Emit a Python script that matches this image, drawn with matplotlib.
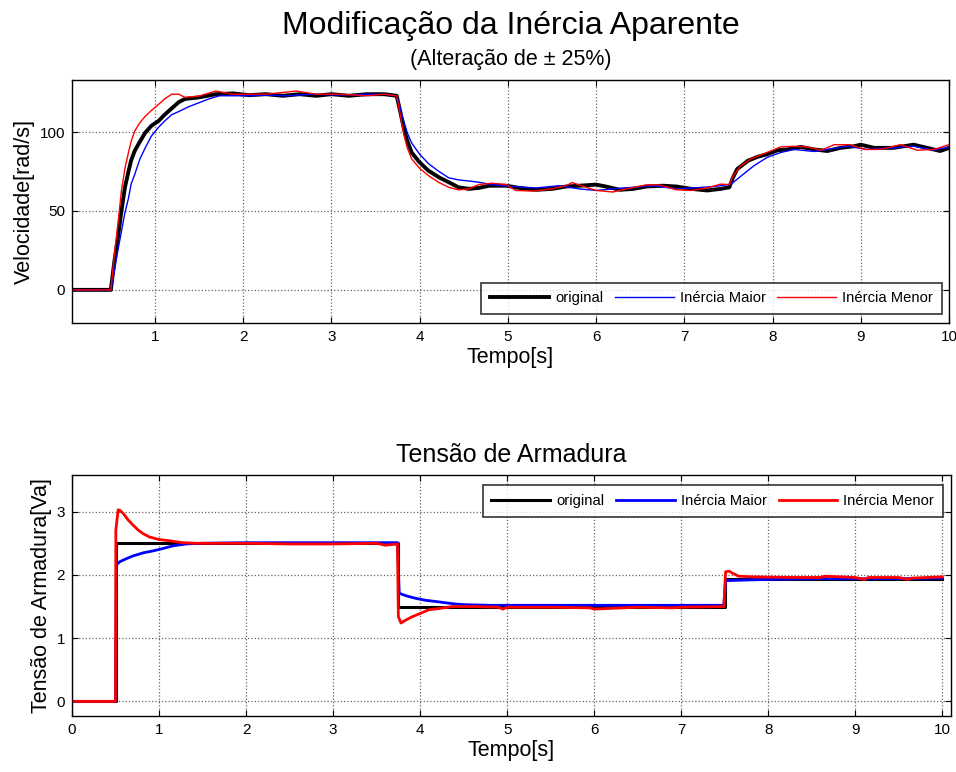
import matplotlib
matplotlib.use("Agg")
import matplotlib.pyplot as plt

plt.rcParams['font.family'] = ['Liberation Sans', 'DejaVu Sans']

# ---------------- Data: velocity (top) ----------------
t_vel_orig = [0.0, 0.50, 0.54, 0.58, 0.62, 0.66, 0.70, 0.73, 0.77, 0.83, 0.89, 0.96, 1.04, 1.11, 1.19,
              1.27, 1.34, 1.50, 1.69, 1.88, 2.07, 2.26, 2.45, 2.64, 2.83, 3.0, 3.2, 3.4, 3.6, 3.74,
              3.78, 3.82, 3.86, 3.91, 4.00, 4.10, 4.22, 4.33, 4.44, 4.56, 4.67, 4.79, 4.98, 5.13,
              5.32, 5.50, 5.66, 5.81, 6.00, 6.11, 6.27, 6.42, 6.57, 6.76, 6.91, 7.08, 7.26, 7.41,
              7.51, 7.55, 7.60, 7.72, 7.83, 7.94, 8.06, 8.17, 8.32, 8.47, 8.62, 8.77, 8.92, 9.00,
              9.15, 9.37, 9.60, 9.75, 9.90, 10.0]
vel_orig = [0, 0, 18, 33, 50, 65, 75, 82, 88, 94, 99.6, 104, 107, 111, 115,
            119, 121, 122, 124, 124.5, 123.4, 124, 123, 124, 123, 124, 123, 124, 124, 123,
            113, 102.7, 94.4, 87, 80.8, 75.5, 71.3, 68.2, 65, 64, 64.6, 66, 66, 64.6,
            63.4, 64, 65.5, 66, 66.7, 65.5, 63.4, 64, 65.5, 66, 65.5, 64, 63, 64,
            65, 71, 76.6, 81.8, 84.3, 86, 88.5, 89, 90.6, 89, 88, 90, 91, 92,
            90, 90, 92, 90, 88, 90]

t_vel_maior = [0.0, 0.50, 0.54, 0.58, 0.62, 0.66, 0.70, 0.73, 0.77, 0.83, 0.89, 0.96, 1.04, 1.11, 1.19,
               1.27, 1.38, 1.50, 1.61, 1.73, 1.88, 2.07, 2.26, 2.5, 2.8, 3.1, 3.4, 3.6, 3.74,
               3.78, 3.82, 3.86, 3.91, 4.00, 4.10, 4.22, 4.33, 4.44, 4.56, 4.67, 4.82, 5.05, 5.32,
               5.58, 5.81, 6.00, 6.19, 6.42, 6.65, 6.91, 7.10, 7.34, 7.53, 7.64, 7.79, 7.94, 8.09,
               8.24, 8.47, 8.62, 8.85, 9.07, 9.37, 9.60, 9.83, 10.0]
vel_maior = [0, 0, 12, 25, 37, 49, 58, 67, 73, 83, 90, 97.5, 103, 107, 111,
             113, 116, 118.6, 121, 123, 123, 123, 123.4, 123, 124, 123.5, 124, 124, 123,
             115, 107, 99.6, 93, 86, 80, 75, 71, 69.7, 69, 68.2, 66.7, 65.5, 64.6,
             66, 64, 63, 64, 65, 66, 64, 64.6, 65.5, 67, 72, 78.7, 84, 87,
             89, 87.7, 89, 91, 89, 90, 91, 88.5, 90.6]

t_vel_menor = [0.0, 0.50, 0.54, 0.58, 0.62, 0.66, 0.70, 0.73, 0.77, 0.83, 0.89, 0.96, 1.04, 1.11, 1.19,
               1.27, 1.34, 1.50, 1.69, 1.88, 2.07, 2.26, 2.60, 2.83, 3.1, 3.4, 3.6, 3.74,
               3.78, 3.82, 3.86, 3.91, 4.00, 4.10, 4.22, 4.33, 4.44, 4.56, 4.67, 4.82, 4.98, 5.09,
               5.28, 5.50, 5.66, 5.73, 5.89, 6.00, 6.19, 6.34, 6.57, 6.72, 6.91, 7.08, 7.26, 7.41,
               7.51, 7.55, 7.64, 7.75, 7.87, 7.98, 8.09, 8.24, 8.39, 8.55, 8.70, 8.88, 9.04, 9.22,
               9.45, 9.64, 9.83, 10.0]
vel_menor = [0, 0, 22, 41.6, 62.7, 77, 87, 94, 100.6, 106, 110, 113.7, 117.5, 121, 124,
             124, 122, 122.8, 126, 124, 124, 124, 126, 124, 124, 123, 124, 123,
             111, 98.5, 90, 83, 77, 72.4, 68, 65, 63.4, 64, 66.7, 67.6, 66.7, 63,
             62.6, 64, 66, 68, 65, 63, 62, 64, 66.5, 66.5, 63.4, 63, 64.6, 67,
             66.7, 72, 78.7, 82.8, 85.6, 88, 90.6, 91, 90.6, 88.5, 92, 92, 89, 89,
             92, 88.5, 89, 92]

# ---------------- Data: armature voltage (bottom) ----------------
t_va_orig = [0.0, 0.5, 0.5, 3.75, 3.75, 7.5, 7.5, 10.0]
va_orig = [0, 0, 2.5, 2.5, 1.5, 1.5, 1.93, 1.93]

t_va_maior = [0.0, 0.50, 0.51, 0.55, 0.63, 0.70, 0.82, 0.93, 1.05, 1.16, 1.31, 1.47, 2.0, 2.5, 3.0,
              3.5, 3.74, 3.76, 3.84, 3.95, 4.06, 4.18, 4.29, 4.41, 4.52, 4.8, 5.2, 5.6, 6.0,
              6.5, 7.0, 7.49, 7.51, 7.75, 8.0, 8.5, 9.0, 9.5, 10.0]
va_maior = [0, 0, 2.16, 2.21, 2.26, 2.30, 2.35, 2.38, 2.42, 2.46, 2.49, 2.50, 2.51, 2.51, 2.51,
            2.51, 2.51, 1.71, 1.67, 1.63, 1.60, 1.58, 1.56, 1.54, 1.53, 1.52, 1.52, 1.52, 1.52,
            1.52, 1.52, 1.52, 1.91, 1.92, 1.93, 1.94, 1.94, 1.94, 1.95]

t_va_menor = [0.0, 0.50, 0.504, 0.53, 0.55, 0.59, 0.645, 0.70, 0.76, 0.82, 0.89, 1.0, 1.12, 1.27,
              1.43, 2.0, 2.5, 3.0, 3.5, 3.60, 3.74, 3.75, 3.78, 3.84, 3.91, 4.00, 4.10, 4.22, 4.37,
              4.6, 4.9, 4.95, 5.0, 5.5, 5.95, 6.0, 6.5, 6.9, 7.0, 7.49, 7.51, 7.55, 7.60, 7.66,
              7.82, 8.3, 8.6, 8.65, 9.0, 9.1, 9.15, 9.5, 9.6, 9.65, 10.0]
va_menor = [0, 0, 2.71, 3.03, 3.02, 2.97, 2.87, 2.79, 2.71, 2.65, 2.60, 2.56, 2.54, 2.51,
            2.50, 2.50, 2.49, 2.49, 2.50, 2.47, 2.49, 1.34, 1.24, 1.29, 1.34, 1.39, 1.45, 1.47, 1.50,
            1.50, 1.49, 1.46, 1.49, 1.49, 1.48, 1.46, 1.49, 1.48, 1.49, 1.50, 2.05, 2.06, 2.02, 1.98,
            1.97, 1.96, 1.96, 1.98, 1.96, 1.93, 1.96, 1.96, 1.93, 1.95, 1.97]

legend_labels = ['original', 'Inércia Maior', 'Inércia Menor']
vel_yticks = [0, 50, 100]
va_yticks = [0, 1, 2, 3]
time_ticks_top = [1, 2, 3, 4, 5, 6, 7, 8, 9, 10]
time_ticks_bottom = [0, 1, 2, 3, 4, 5, 6, 7, 8, 9, 10]

# ---------------- Figure ----------------
W, H = 956, 772
fig = plt.figure(figsize=(W / 100, H / 100), dpi=100)

def px_axes(l, t, r, b):
    return fig.add_axes([l / W, 1 - b / H, (r - l) / W, (b - t) / H])

ax1 = px_axes(72, 80, 949, 323)
ax2 = px_axes(72, 475, 951, 716)

def style(ax):
    ax.grid(True, linestyle=':', color='#666666', linewidth=0.9)
    ax.tick_params(direction='in', top=True, right=True, labelsize=11, length=4,
                   width=0.8, pad=5)
    for s in ax.spines.values():
        s.set_linewidth(1.0)
        s.set_color('black')

legend_kw = dict(ncol=3, fontsize=10.6, frameon=True, fancybox=False, edgecolor='black',
                 handlelength=4.0, handletextpad=0.4, columnspacing=0.8,
                 borderaxespad=0, borderpad=0.6)

# Top
ax1.plot(t_vel_orig, vel_orig, color='black', lw=2.8, label=legend_labels[0])
ax1.plot(t_vel_maior, vel_maior, color='blue', lw=1.0, label=legend_labels[1])
ax1.plot(t_vel_menor, vel_menor, color='red', lw=1.0, label=legend_labels[2])
ax1.set_xlim(0.06, 10)
ax1.set_ylim(-21, 133)
ax1.set_xticks(time_ticks_top)
ax1.set_yticks(vel_yticks)
style(ax1)
ax1.set_xlabel('Tempo[s]', fontsize=15.5, labelpad=2)
ax1.set_ylabel('Velocidade[rad/s]', fontsize=15.5, labelpad=3)
leg1 = ax1.legend(loc='lower right', bbox_to_anchor=(0.992, 0.036), **legend_kw)
leg1.get_frame().set_linewidth(1.2)

fig.text(511 / W, 1 - 26 / H, 'Modificação da Inércia Aparente', fontsize=23,
         ha='center', va='center')
fig.text(511 / W, 1 - 59 / H, '(Alteração de ± 25%)', fontsize=15.5,
         ha='center', va='center')

# Bottom
ax2.plot(t_va_orig, va_orig, color='black', lw=2.2, label=legend_labels[0])
ax2.plot(t_va_maior, va_maior, color='blue', lw=2.0, label=legend_labels[1])
ax2.plot(t_va_menor, va_menor, color='red', lw=2.0, label=legend_labels[2])
ax2.set_xlim(0, 10.1)
ax2.set_ylim(-0.23, 3.58)
ax2.set_xticks(time_ticks_bottom)
ax2.set_yticks(va_yticks)
style(ax2)
ax2.set_xlabel('Tempo[s]', fontsize=15.5, labelpad=2)
ax2.set_ylabel('Tensão de Armadura[Va]', fontsize=15.5, labelpad=3)
ax2.set_title('Tensão de Armadura', fontsize=18, pad=9)
leg2 = ax2.legend(loc='upper right', bbox_to_anchor=(0.991, 0.958), **legend_kw)
leg2.get_frame().set_linewidth(1.2)

fig.savefig('out.png', dpi=100)
